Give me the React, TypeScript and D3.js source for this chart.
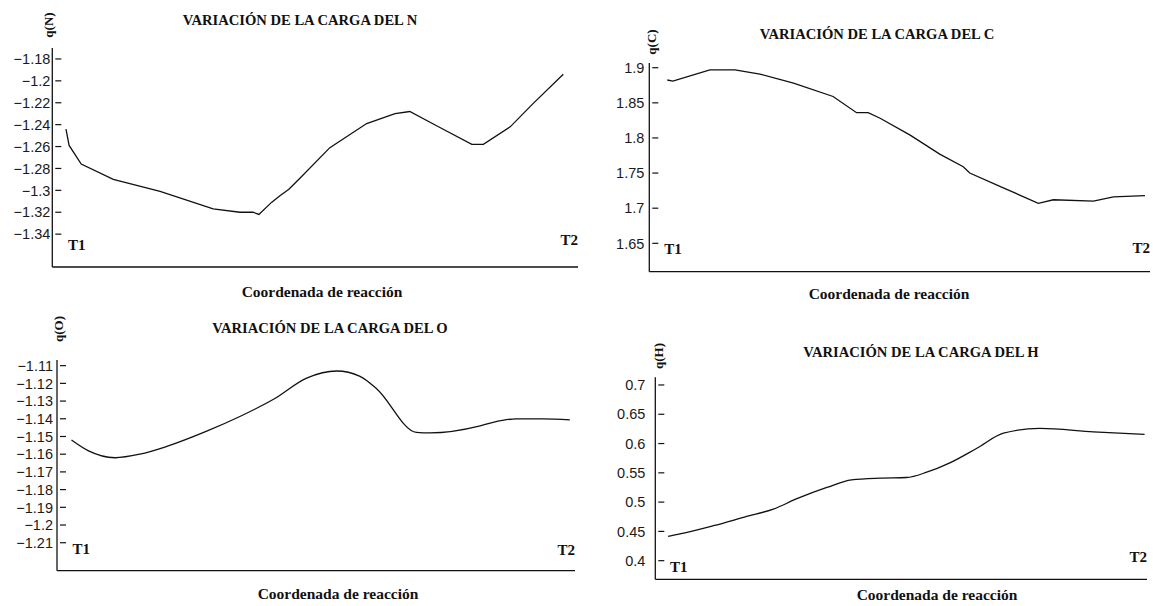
import * as d3 from "d3";
import { useEffect, useRef } from "react";

const W = 1153;
const H = 606;

// reaction coordinate runs 0 (T1) .. 100 (T2)
const reactionN = [2.6, 3.2, 5.5, 11.6, 20.5, 30.6, 35.7, 38.2, 39.3, 41.7, 43.3, 45.0, 47.1, 52.8, 59.8, 65.2, 68.0, 73.1, 79.8, 82.0, 87.1, 91.4, 97.2];
const chargeN = [-1.244, -1.259, -1.276, -1.29, -1.301, -1.317, -1.32, -1.32, -1.322, -1.311, -1.305, -1.299, -1.289, -1.261, -1.239, -1.23, -1.228, -1.241, -1.258, -1.258, -1.242, -1.221, -1.194];

const reactionC = [3.6, 4.7, 12.1, 17.1, 22.1, 28.8, 36.7, 41.4, 43.7, 46.1, 52.1, 58.0, 62.7, 64.0, 70.7, 77.7, 80.7, 88.7, 92.7, 99.0];
const chargeC = [1.8825, 1.881, 1.897, 1.897, 1.891, 1.878, 1.859, 1.836, 1.836, 1.828, 1.804, 1.777, 1.759, 1.75, 1.729, 1.707, 1.712, 1.71, 1.716, 1.718];

const reactionO = [2.8, 6.0, 11.2, 16.0, 21.2, 28.9, 35.3, 41.8, 48.2, 54.0, 58.5, 61.7, 69.4, 72.0, 81.7, 84.2, 88.7, 93.9, 99.0];
const chargeO = [-1.152, -1.158, -1.162, -1.16, -1.1556, -1.147, -1.1387, -1.129, -1.117, -1.113, -1.116, -1.123, -1.1477, -1.148, -1.144, -1.142, -1.14, -1.14, -1.1406];

const reactionH = [2.6, 5.0, 11.8, 18.6, 24.0, 28.8, 34.9, 39.9, 45.7, 51.1, 55.2, 59.9, 65.4, 70.8, 78.2, 89.1, 99.5];
const chargeH = [0.4415, 0.4456, 0.4597, 0.4756, 0.488, 0.5058, 0.525, 0.538, 0.541, 0.542, 0.551, 0.567, 0.592, 0.6176, 0.626, 0.62, 0.6155];

const ticksN = [-1.18, -1.2, -1.22, -1.24, -1.26, -1.28, -1.3, -1.32, -1.34];
const ticksC = [1.9, 1.85, 1.8, 1.75, 1.7, 1.65];
const ticksO = [-1.11, -1.12, -1.13, -1.14, -1.15, -1.16, -1.17, -1.18, -1.19, -1.2, -1.21];
const ticksH = [0.7, 0.65, 0.6, 0.55, 0.5, 0.45, 0.4];

const titles = ["VARIACIÓN DE LA CARGA DEL N", "VARIACIÓN DE LA CARGA DEL C", "VARIACIÓN DE LA CARGA DEL O", "VARIACIÓN DE LA CARGA DEL H"];
const yLabels = ["q(N)", "q(C)", "q(O)", "q(H)"];
const xLabel = "Coordenada de reacción";

const serif = "'Liberation Serif', 'Times New Roman', serif";
const sans = "'Liberation Sans', Arial, sans-serif";

// layout of each panel (pixels)
const panels = [
    { xs: reactionN, ys: chargeN, ticks: ticksN, yDomain: [-1.37, -1.17], left: 52.3, right: 578, top: 48, bottom: 267, labelGap: 2, titleX: 300, titleY: 25, qX: 48, qY: 25, t1Dy: -17, t2Dy: -22, xlX: 322, xlY: 297, smooth: false },
    { xs: reactionC, ys: chargeC, ticks: ticksC, yDomain: [1.6096, 1.9067], left: 649.3, right: 1150, top: 63, bottom: 271.7, labelGap: 5, titleX: 877, titleY: 39, qX: 651, qY: 42, t1Dy: -18, t2Dy: -19, xlX: 889, xlY: 299, smooth: false },
    { xs: reactionO, ys: chargeO, ticks: ticksO, yDomain: [-1.2258, -1.1068], left: 57, right: 575, top: 360, bottom: 570.7, labelGap: 4, titleX: 330, titleY: 333, qX: 58, qY: 329, t1Dy: -17, t2Dy: -16, xlX: 338, xlY: 599, smooth: true },
    { xs: reactionH, ys: chargeH, ticks: ticksH, yDomain: [0.3682, 0.7131], left: 655.3, right: 1147, top: 377.3, bottom: 579.3, labelGap: 10, titleX: 921, titleY: 357, qX: 658, qY: 356, t1Dy: -7, t2Dy: -17, xlX: 937, xlY: 600, smooth: true },
];

export default function App() {
    const ref = useRef<SVGSVGElement>(null);

    useEffect(() => {
        const svg = d3.select(ref.current);
        svg.selectAll("*").remove();
        svg.append("rect").attr("width", W).attr("height", H).attr("fill", "#fff");

        const fmt = d3.format("~g");

        panels.forEach((p, i) => {
            const x = d3.scaleLinear().domain([0, 100]).range([p.left, p.right]);
            const y = d3.scaleLinear().domain(p.yDomain).range([p.bottom, p.top]);
            const g = svg.append("g");

            // axes
            g.append("line")
                .attr("x1", p.left).attr("x2", p.left)
                .attr("y1", p.top).attr("y2", p.bottom)
                .attr("stroke", "#111").attr("stroke-width", 1.3);
            g.append("line")
                .attr("x1", p.left).attr("x2", p.right)
                .attr("y1", p.bottom).attr("y2", p.bottom)
                .attr("stroke", "#111").attr("stroke-width", 1.3);

            // tick marks sit a bit inside the axis
            g.selectAll(".tk")
                .data(p.ticks)
                .enter()
                .append("line")
                .attr("x1", p.left + 3).attr("x2", p.left + 9)
                .attr("y1", (d) => y(d)).attr("y2", (d) => y(d))
                .attr("stroke", "#111").attr("stroke-width", 1.2);

            g.selectAll(".tl")
                .data(p.ticks)
                .enter()
                .append("text")
                .attr("x", p.left - p.labelGap)
                .attr("y", (d) => y(d))
                .attr("dy", "0.36em")
                .attr("text-anchor", "end")
                .style("font-family", sans)
                .style("font-size", "14.5px")
                .attr("fill", "#1a1a1a")
                .text((d) => fmt(d));

            // the curve
            const line = d3.line<number>()
                .x((d, k) => x(p.xs[k]))
                .y((d) => y(d))
                .curve(p.smooth ? d3.curveMonotoneX : d3.curveLinear);
            g.append("path")
                .attr("d", line(p.ys))
                .attr("fill", "none")
                .attr("stroke", "#111")
                .attr("stroke-width", 1.3);

            // texts
            g.append("text")
                .attr("x", p.titleX).attr("y", p.titleY)
                .attr("text-anchor", "middle")
                .style("font-family", serif).style("font-weight", "bold").style("font-size", "14.6px")
                .attr("fill", "#111")
                .text(titles[i]);

            g.append("text")
                .attr("transform", `translate(${p.qX},${p.qY}) rotate(-90)`)
                .attr("dy", "0.35em")
                .attr("text-anchor", "middle")
                .style("font-family", serif).style("font-weight", "bold").style("font-size", "13px")
                .attr("fill", "#111")
                .text(yLabels[i]);

            g.append("text")
                .attr("x", x(3)).attr("y", p.bottom + p.t1Dy)
                .style("font-family", serif).style("font-weight", "bold").style("font-size", "15px")
                .attr("fill", "#111")
                .text("T1");
            g.append("text")
                .attr("x", x(100)).attr("y", p.bottom + p.t2Dy)
                .attr("text-anchor", "end")
                .style("font-family", serif).style("font-weight", "bold").style("font-size", "15px")
                .attr("fill", "#111")
                .text("T2");

            g.append("text")
                .attr("x", p.xlX).attr("y", p.xlY)
                .attr("text-anchor", "middle")
                .style("font-family", serif).style("font-weight", "bold").style("font-size", "15.5px")
                .attr("fill", "#111")
                .text(xLabel);
        });
    }, []);

    return (
        <svg ref={ref} width={W} height={H} style={{ position: "absolute", left: 0, top: 0, display: "block" }} />
    );
}
